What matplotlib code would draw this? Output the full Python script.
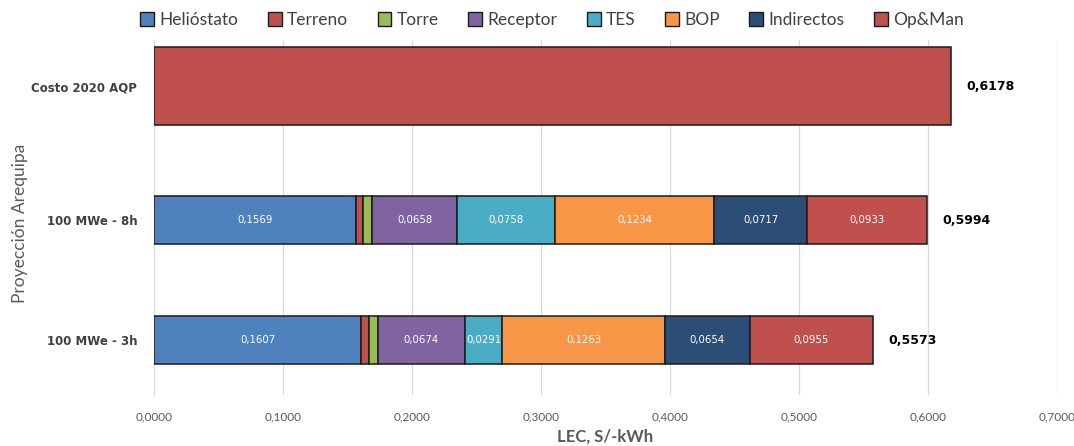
import matplotlib
matplotlib.use("Agg")
import matplotlib.pyplot as plt
from matplotlib.patches import Patch

categories = ["100 MWe - 3h", "100 MWe - 8h", "Costo 2020 AQP"]
components = ["Helióstato", "Terreno", "Torre", "Receptor", "TES", "BOP", "Indirectos", "Op&Man"]
values = {
    "Helióstato": [0.1607, 0.1569, 0.0],
    "Terreno":    [0.0057, 0.0055, 0.0],
    "Torre":      [0.0072, 0.0070, 0.0],
    "Receptor":   [0.0674, 0.0658, 0.0],
    "TES":        [0.0291, 0.0758, 0.0],
    "BOP":        [0.1263, 0.1234, 0.0],
    "Indirectos": [0.0654, 0.0717, 0.0],
    "Op&Man":     [0.0955, 0.0933, 0.6178],
}
totals = [0.5573, 0.5994, 0.6178]
xticks = [0.0, 0.1, 0.2, 0.3, 0.4, 0.5, 0.6, 0.7]
labeled = {"Helióstato", "Receptor", "TES", "BOP", "Indirectos", "Op&Man"}

colors = {
    "Helióstato": "#4F81BD", "Terreno": "#C0504D", "Torre": "#9BBB59",
    "Receptor": "#8064A2", "TES": "#4BACC6", "BOP": "#F79646",
    "Indirectos": "#2C4D75", "Op&Man": "#C0504D",
}
ypos = [0.0, 0.945, 2.0]
heights = [0.38, 0.38, 0.61]

fig = plt.figure(figsize=(10.74, 4.46), dpi=100)
ax = fig.add_axes([0.1434, 0.1143, 0.8406, 0.7957])

left = [0.0] * len(categories)
for comp in components:
    vals = values[comp]
    ax.barh(ypos, vals, height=heights, left=left, color=colors[comp],
            edgecolor="#1a1a1a", linewidth=1.1, zorder=3)
    for i, v in enumerate(vals):
        if v > 0 and comp in labeled and i < 2:
            ax.text(left[i] + v / 2, ypos[i], f"{v:.4f}".replace(".", ","),
                    ha="center", va="center", color="white", fontsize=7.3,
                    family="DejaVu Sans", zorder=4)
    left = [l + v for l, v in zip(left, vals)]

for i, t in enumerate(totals):
    ax.text(t + 0.012, ypos[i], f"{t:.4f}".replace(".", ","), ha="left",
            va="center", fontsize=9, fontweight="bold", color="black",
            family="DejaVu Sans")

ax.set_xlim(0, 0.7)
ax.set_ylim(-0.433, 2.362)
ax.set_xticks(xticks)
ax.set_xticklabels([f"{x:.4f}".replace(".", ",") for x in xticks],
                   fontsize=8.5, color="#595959", family="Lato")
ax.set_yticks(ypos)
ax.set_yticklabels(categories, fontsize=8.5, fontweight="bold", color="#404040",
                   family="DejaVu Sans")
ax.tick_params(axis="y", length=0, pad=12)
ax.tick_params(axis="x", length=0, pad=12)
ax.grid(axis="x", color="#D9D9D9", linewidth=0.9, zorder=0)
for s in ["top", "right", "bottom"]:
    ax.spines[s].set_visible(False)
ax.spines["left"].set_color("#D9D9D9")

ax.set_xlabel("LEC, S/-kWh", fontsize=12, fontweight="bold", color="#595959",
              family="Lato", labelpad=4)
fig.text(0.019, 0.5, "Proyección Arequipa", rotation=90, ha="center", va="center",
         fontsize=12.5, color="#595959", family="Lato")

handles = [Patch(facecolor=colors[c], edgecolor="#1a1a1a", linewidth=1.0, label=c)
           for c in components]
leg = fig.legend(handles=handles, loc="center", bbox_to_anchor=(0.514, 0.955), ncol=8,
                 frameon=False, prop={"family": "Lato", "size": 12.5},
                 handlelength=0.8, handleheight=0.8, handletextpad=0.3,
                 columnspacing=1.7)
for t in leg.get_texts():
    t.set_color("#404040")

fig.savefig("out.png", dpi=100)
